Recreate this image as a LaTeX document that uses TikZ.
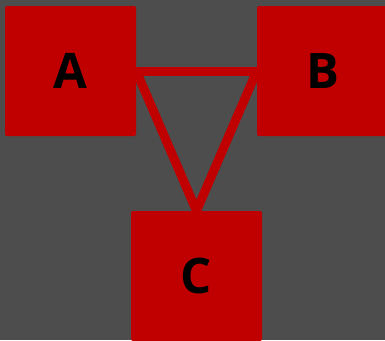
\documentclass[tikz,border=0pt]{standalone}
\usepackage{fontspec}
\setmainfont{Open Sans}
\usetikzlibrary{backgrounds}
\definecolor{bg}{HTML}{4D4D4D}
\definecolor{boxred}{HTML}{C00000}
\begin{document}
\begin{tikzpicture}[x=1pt,y=1pt,
  box/.style={fill=boxred, draw=none, rounded corners=2pt, minimum width=131pt, minimum height=130pt, inner sep=0pt, font=\fontsize{49}{49}\selectfont\bfseries, text=black},
  link/.style={draw=boxred, line width=9pt}]
\useasboundingbox (0,0) rectangle (385,-340);
\node[box] (A) at (70.5,-71) {A};
\node[box] (B) at (322.5,-71) {B};
\node[box] (C) at (196.5,-276) {C};
\begin{scope}[on background layer]
\fill[bg] (0,0) rectangle (385,-340);
\draw[link] (A.east) -- (B.west);
\draw[link] (A.east) -- (C.north);
\draw[link] (B.west) -- (C.north);
\end{scope}
\end{tikzpicture}
\end{document}
